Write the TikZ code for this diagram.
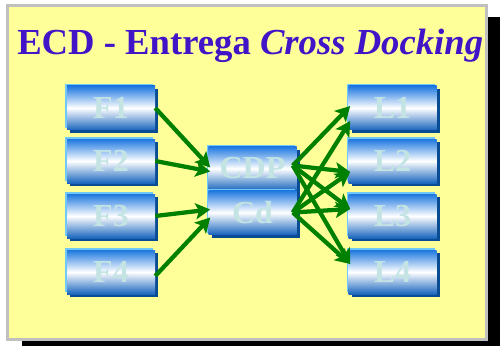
\documentclass[tikz,border=0pt]{standalone}
\usepackage{fontspec}
\setmainfont{Liberation Serif}
\usetikzlibrary{arrows.meta,calc,shadows}
\definecolor{paper}{HTML}{FFFF99}
\definecolor{framegray}{HTML}{C0C0C0}
\definecolor{titleblue}{HTML}{4214C8}
\definecolor{boxblue}{HTML}{1E78E0}
\definecolor{boxdark}{HTML}{0A4C94}
\definecolor{boxlight}{HTML}{70C8F8}
\definecolor{boxtext}{HTML}{C4E4E4}
\definecolor{flowgreen}{HTML}{008000}
\begin{document}
\begin{tikzpicture}[x=0.75pt,y=-0.75pt,>={Stealth[length=11pt,width=12pt,inset=2.5pt]},
  box/.style={minimum width=66pt,minimum height=33pt,inner sep=0pt,
    top color=boxblue,bottom color=boxblue!85!black,middle color=white,
    general shadow={fill=boxdark,shadow xshift=2.5pt,shadow yshift=-2.5pt},
    general shadow={fill=boxlight,shadow xshift=-1.5pt,shadow yshift=1.5pt},
    text=boxtext,font=\fontsize{24}{28}\selectfont\bfseries},
  flow/.style={->,line width=3.2pt,draw=flowgreen}]
\useasboundingbox (0,0) rectangle (500,346);
% slide: black drop shadow, then the yellow page
\fill (22,17) rectangle (500,346);
\draw[line width=2.25pt,draw=framegray,fill=paper] (7.5,5.5) rectangle (486.5,339.5);
\node[anchor=base west,inner sep=0pt,text=titleblue,font=\fontsize{27.5}{33}\selectfont\bfseries]
  (title) at (17,55) {ECD - Entrega \textit{Cross Docking}};
% suppliers F, stores L and the cross-dock in the middle
\foreach \n/\y in {1/108,2/161,3/216,4/272} {
  \node[box] (F\n) at (111,\y) {\raisebox{-2pt}{F\n}};
  \node[box] (L\n) at (392.5,\y) {\raisebox{-2pt}{L\n}};
}
\node[box] (CDP) at (252.5,168.5) {\raisebox{-2pt}{CDP}};
\node[box] (Cd) at (252.5,212.5) {\raisebox{-2pt}{Cd}};
% inbound
\draw[flow] (F1.east) -- ($(CDP.west)+(2,-1)$);
\draw[flow] (F2.east) -- ($(CDP.west)+(2,3)$);
\draw[flow] (F3.east) -- ($(Cd.west)+(2,-3)$);
\draw[flow] ($(F4.east)+(0,4)$) -- ($(Cd.west)+(2,5)$);
% outbound, every store from both docks
\foreach \t/\dy in {L1/-2,L2/11,L3/-7,L4/-8}
  \draw[flow] ($(CDP.east)+(-4,-3)$) -- ($(\t.west)+(2,\dy)$);
\foreach \t/\dy in {L1/13,L2/11,L3/-7,L4/-8}
  \draw[flow] ($(Cd.east)+(-4,0)$) -- ($(\t.west)+(2,\dy)$);
\end{tikzpicture}
\end{document}
